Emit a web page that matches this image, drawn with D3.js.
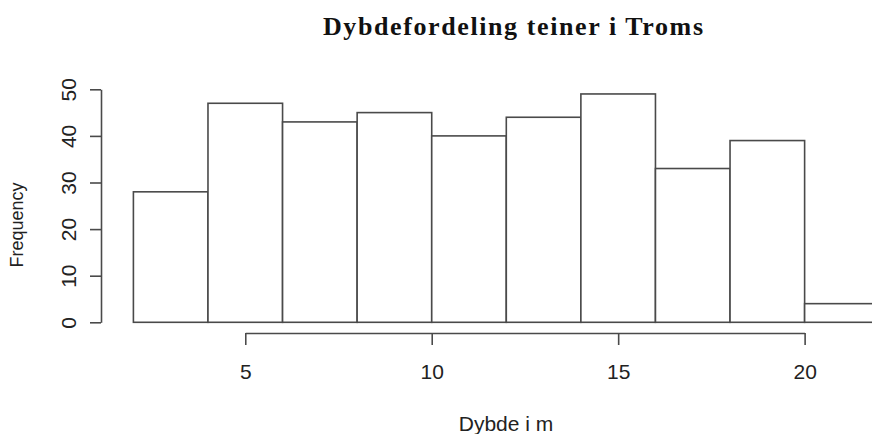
<!DOCTYPE html>
<html>
<head>
<meta charset="utf-8">
<script src="https://cdn.jsdelivr.net/npm/d3@7"></script>
<style>
  html, body { margin: 0; padding: 0; background: #fff; }
  svg { display: block; }
</style>
</head>
<body>
<svg id="chart" width="872" height="434"></svg>
<script>
// ---- data ----
const title = "Dybdefordeling teiner i Troms";
const xLabel = "Dybde i m";
const yLabel = "Frequency";
const binBreaks = [2, 4, 6, 8, 10, 12, 14, 16, 18, 20, 22];
const binCounts = [28, 47, 43, 45, 40, 44, 49, 33, 39, 4];
const xTickValues = [5, 10, 15, 20];
const yTickValues = [0, 10, 20, 30, 40, 50];

const bins = binCounts.map((c, i) => ({ x0: binBreaks[i], x1: binBreaks[i + 1], count: c }));

const svg = d3.select("#chart");
const lineColor = "#4a4a4a";
const textColor = "#222";
const sans = "'Liberation Sans', Arial, sans-serif";

const x = d3.scaleLinear().domain([2, 22]).range([133.4, 879.2]);
const y = d3.scaleLinear().domain([0, 50]).range([322.3, 89.3]);

// bars
svg.append("g").selectAll("rect")
  .data(bins)
  .join("rect")
  .attr("x", d => x(d.x0))
  .attr("y", d => y(d.count))
  .attr("width", d => x(d.x1) - x(d.x0))
  .attr("height", d => y(0) - y(d.count))
  .attr("fill", "#fff")
  .attr("stroke", lineColor)
  .attr("stroke-width", 1.6);

// x axis (offset below plot, R style)
const xAxisScale = x.copy().domain([xTickValues[0], xTickValues[xTickValues.length - 1]])
  .range([x(xTickValues[0]), x(xTickValues[xTickValues.length - 1])]);
const gx = svg.append("g")
  .attr("transform", "translate(0,333)")
  .call(d3.axisBottom(xAxisScale).tickValues(xTickValues).tickSize(12).tickSizeOuter(0).tickPadding(19).tickFormat(d3.format("d")));
gx.selectAll("path, line").attr("stroke", lineColor).attr("stroke-width", 1.6);
gx.selectAll("text").attr("fill", textColor).attr("font-family", sans).attr("font-size", 21);

// y axis
const gy = svg.append("g")
  .attr("transform", "translate(101,0)")
  .call(d3.axisLeft(y).tickValues(yTickValues).tickSize(11).tickSizeOuter(0).tickFormat(d3.format("d")));
gy.selectAll("path, line").attr("stroke", lineColor).attr("stroke-width", 1.6);
gy.selectAll("text")
  .attr("x", 0).attr("y", -25).attr("dy", null)
  .attr("transform", "rotate(-90)")
  .attr("text-anchor", "middle")
  .attr("fill", textColor).attr("font-family", sans).attr("font-size", 21);

// title
svg.append("text")
  .attr("x", 513).attr("y", 35)
  .attr("text-anchor", "middle")
  .attr("font-family", "'Liberation Serif', 'Times New Roman', serif")
  .attr("font-weight", "bold")
  .attr("font-size", 26)
  .attr("fill", "#111")
  .attr("textLength", 380)
  .attr("lengthAdjust", "spacing")
  .text(title);

// x label
svg.append("text")
  .attr("x", 506).attr("y", 431)
  .attr("text-anchor", "middle")
  .attr("font-family", sans)
  .attr("font-size", 21)
  .attr("fill", textColor)
  .text(xLabel);

// y label
svg.append("text")
  .attr("transform", "translate(23,225) rotate(-90)")
  .attr("text-anchor", "middle")
  .attr("font-family", sans)
  .attr("font-size", 18)
  .attr("fill", textColor)
  .text(yLabel);
</script>
</body>
</html>
